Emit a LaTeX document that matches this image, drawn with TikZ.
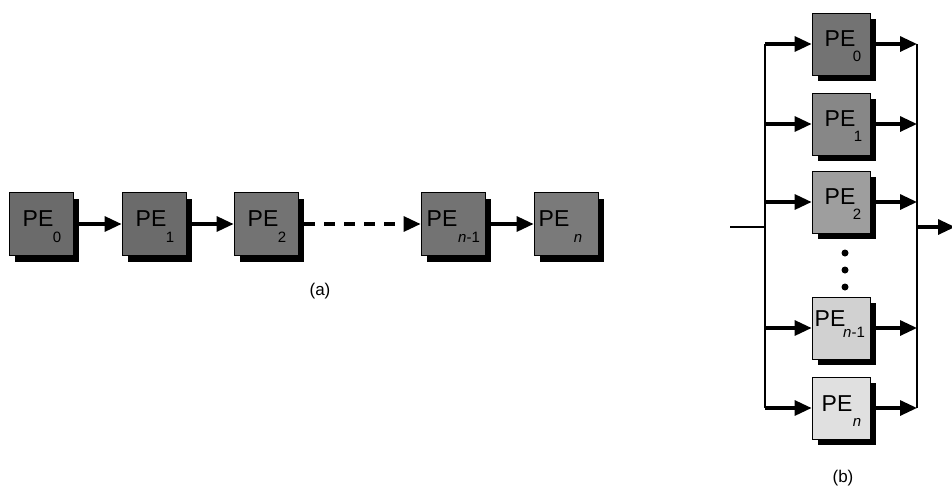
\documentclass[tikz,border=0pt]{standalone}
\usepackage{fontspec}
\setmainfont{Liberation Sans}
\usetikzlibrary{arrows.meta,shadows}
% #1 name, #2 position, #3 box style, #4 fill, #5 subscript, #6 PE offset, #7 subscript offset
\newcommand\peunit[7]{%
  \node[#3,fill=#4] (#1) at (#2) {};
  \node[petxt] (#1t) at ([shift={(#6)}]#1.center) {PE};
  \node[pesub] (#1s) at ([shift={(#7)}]#1.center) {#5};
}
\begin{document}
\begin{tikzpicture}[x=1pt,y=-1pt,
  pebox/.style={draw=black,line width=0.8pt,minimum width=64pt,minimum height=63pt,inner sep=0pt,
    drop shadow={shadow xshift=6pt,shadow yshift=-6pt,fill=black,opacity=1}},
  peboxb/.style={pebox,minimum width=58pt,minimum height=62pt},
  petxt/.style={inner sep=0pt,font=\fontsize{23pt}{23pt}\selectfont},
  pesub/.style={inner sep=0pt,font=\fontsize{15pt}{15pt}\selectfont},
  arr/.style={line width=3.2pt,-{Triangle[length=17pt,width=15pt]}},
  bus/.style={line width=2.4pt},
  dotn/.style={circle,fill=black,minimum size=7pt,inner sep=0pt},
  captext/.style={font=\fontsize{17pt}{17pt}\selectfont}]
\useasboundingbox (0,0) rectangle (952,488);
% (a) linear pipeline
\peunit{a0}{41,224}{pebox}{black!58}{0}{-3,-5}{16,13}
\peunit{a1}{154,224}{pebox}{black!58}{1}{-3,-5}{16,13}
\peunit{a2}{266,224}{pebox}{black!55}{2}{-3,-5}{16,13}
\peunit{an1}{453,224}{pebox}{black!55}{\textit{n}-1}{-11,-5}{16,13}
\peunit{an}{566,224}{pebox}{black!52}{\textit{n}}{-12,-5}{12,14}
\draw[arr] ([xshift=6pt]a0.east) -- (a1.west);
\draw[arr] ([xshift=6pt]a1.east) -- (a2.west);
\draw[arr,dash pattern=on 11pt off 9pt] ([xshift=6pt]a2.east) -- (an1.west);
\draw[arr] ([xshift=6pt]an1.east) -- (an.west);
\node[captext] (capa) at (320,291) {(a)};
% (b) parallel
\coordinate (lbus) at (765,0);
\coordinate (rbus) at (917,0);
\coordinate (in) at (730,227);
\coordinate (out) at (955,227);
\peunit{b0}{841,44}{peboxb}{black!55}{0}{-1,-5}{16,12}
\peunit{b1}{841,124}{peboxb}{black!47}{1}{-1,-5}{17,12}
\peunit{b2}{841,202}{peboxb}{black!38}{2}{-1,-5}{16,12}
\peunit{bn1}{841,328}{peboxb}{black!18}{\textit{n}-1}{-11,-9}{13,4}
\peunit{bn}{841,408}{peboxb}{black!12}{\textit{n}}{-4,-4}{16,14}
\node[dotn] (d1) at (845,253) {};
\node[dotn] (d2) at (845,270) {};
\node[dotn] (d3) at (845,287) {};
\draw[bus] (lbus |- b0.west) -- (lbus |- bn.west);
\draw[bus] (rbus |- b0.east) -- (rbus |- bn.east);
\draw[bus] (in) -- (in -| lbus);
\draw[arr] (in -| rbus) -- (out);
\foreach \b in {b0,b1,b2,bn1,bn}{
  \draw[arr] (lbus |- \b.west) -- (\b.west);
  \draw[arr] ([xshift=6pt]\b.east) -- (rbus |- \b.east);
}
\node[captext] (capb) at (843,478) {(b)};
\end{tikzpicture}
\end{document}
